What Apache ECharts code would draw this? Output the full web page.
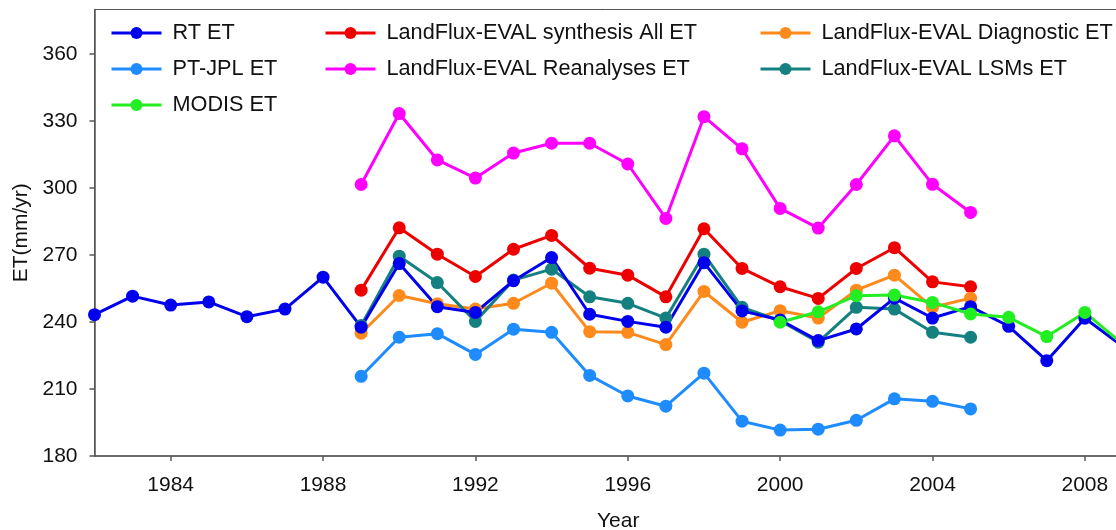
<!DOCTYPE html>
<html>
<head>
<meta charset="utf-8">
<script src="https://cdn.jsdelivr.net/npm/echarts@6/dist/echarts.min.js"></script>
<style>
html,body{margin:0;padding:0;background:#fff;}
#chart{width:1116px;height:530px;}
</style>
</head>
<body>
<div id="chart"></div>
<script>
// ---- data ----
const rtYears = [1982,1983,1984,1985,1986,1987,1988,1989,1990,1991,1992,1993,1994,1995,1996,1997,1998,1999,2000,2001,2002,2003,2004,2005,2006,2007,2008,2009];
const rtET = [243.3,251.6,247.6,249.0,242.4,245.8,260.1,237.7,266.2,246.9,244.3,258.5,268.9,243.5,240.3,237.7,266.6,245.0,240.9,231.7,236.9,250.7,241.8,246.9,238.1,222.7,241.7,229.0];

const lfYears = [1989,1990,1991,1992,1993,1994,1995,1996,1997,1998,1999,2000,2001,2002,2003,2004,2005];
const ptjplET = [215.7,233.2,234.8,225.5,236.8,235.4,216.1,206.9,202.3,217.1,195.6,191.6,192.0,196.0,205.6,204.5,201.1];
const synthAllET = [254.3,282.2,270.4,260.4,272.6,278.8,264.1,261.0,251.3,281.8,264.0,255.8,250.6,264.0,273.3,258.0,255.8];
const reanalysesET = [301.6,333.4,312.6,304.5,315.7,320.1,320.1,310.8,286.4,332.0,317.6,290.9,282.1,301.6,323.4,301.7,289.1];
const diagnosticET = [235.0,251.9,248.2,245.8,248.4,257.4,235.7,235.4,229.9,253.7,239.9,245.1,241.8,254.3,261.0,246.6,250.7];
const lsmsET = [238.4,269.5,257.7,240.3,258.8,263.7,251.3,248.4,241.8,270.4,246.6,240.6,231.0,246.6,245.8,235.4,233.2];

const modisYears = [2000,2001,2002,2003,2004,2005,2006,2007,2008,2009];
const modisET = [239.9,244.6,251.8,252.1,248.8,243.6,242.1,233.5,244.3,230.0];

const xTicks = [1984,1988,1992,1996,2000,2004,2008];
const yTicks = [180,210,240,270,300,330,360];

// ---- chart ----
const FONT = 'Liberation Sans, Arial, sans-serif';
function pairs(xs, ys){ return xs.map((x,i)=>[x, ys[i]]); }

const seriesDefs = [
  {name:'LandFlux-EVAL Reanalyses ET', color:'#FF00FF', x:lfYears, y:reanalysesET},
  {name:'LandFlux-EVAL synthesis All ET', color:'#EE0000', x:lfYears, y:synthAllET},
  {name:'LandFlux-EVAL Diagnostic ET', color:'#FF8A1C', x:lfYears, y:diagnosticET},
  {name:'LandFlux-EVAL LSMs ET', color:'#158080', x:lfYears, y:lsmsET},
  {name:'PT-JPL ET', color:'#1E8CFF', x:lfYears, y:ptjplET},
  {name:'RT ET', color:'#0000EE', x:rtYears, y:rtET},
  {name:'MODIS ET', color:'#22EE22', x:modisYears, y:modisET}
];

const series = seriesDefs.map(s => ({
  name: s.name,
  type: 'line',
  data: pairs(s.x, s.y),
  symbol: 'circle',
  symbolSize: 13,
  showSymbol: true,
  clip: true,
  lineStyle: {color: s.color, width: 3},
  itemStyle: {color: s.color},
  emphasis: {disabled: true},
  animation: false
}));

function legendCol(left, names){
  return {
    orient: 'vertical',
    left: left,
    top: 21,
    padding: 0,
    data: names,
    itemWidth: 50,
    itemHeight: 15,
    itemGap: 12,
    selectedMode: false,
    lineStyle: {width: 3},
    textStyle: {fontSize: 21.7, fontFamily: FONT, color: '#111', lineHeight: 24, padding: [0,0,0,6]}
  };
}

const chart = echarts.init(document.getElementById('chart'), null, {renderer: 'canvas'});
chart.setOption({
  backgroundColor: '#fff',
  animation: false,
  grid: {left: 94.5, top: 9.5, width: 1047.5, bottom: 74, show: true, borderColor: '#555', borderWidth: 1, containLabel: false, outerBoundsMode: 'none'},
  legend: [
    legendCol(110, ['RT ET','PT-JPL ET','MODIS ET']),
    legendCol(324, ['LandFlux-EVAL synthesis All ET','LandFlux-EVAL Reanalyses ET']),
    legendCol(759, ['LandFlux-EVAL Diagnostic ET','LandFlux-EVAL LSMs ET'])
  ],
  xAxis: {
    type: 'value', min: 1982, max: 2009.5,
    name: 'Year', nameLocation: 'middle', nameGap: 55,
    nameTextStyle: {fontSize: 21, fontFamily: FONT, color: '#111'},
    axisLine: {show: true, lineStyle: {color: '#555', width: 1.5}},
    axisTick: {show: true, length: 5, inside: false, customValues: xTicks, lineStyle: {color: '#555', width: 1.5}},
    axisLabel: {customValues: xTicks, fontSize: 21, fontFamily: FONT, color: '#111', margin: 19, formatter: v => String(v)},
    splitLine: {show: false}
  },
  yAxis: {
    type: 'value', min: 180, max: 380,
    name: 'ET(mm/yr)', nameLocation: 'middle', nameGap: 58,
    nameTextStyle: {fontSize: 21, fontFamily: FONT, color: '#111'},
    axisLine: {show: true, lineStyle: {color: '#555', width: 1.5}},
    axisTick: {show: true, length: 5, inside: false, customValues: yTicks, lineStyle: {color: '#555', width: 1.5}},
    axisLabel: {customValues: yTicks, fontSize: 21, fontFamily: FONT, color: '#111', margin: 17, formatter: v => String(v)},
    splitLine: {show: false}
  },
  series: series
});
</script>
</body>
</html>
